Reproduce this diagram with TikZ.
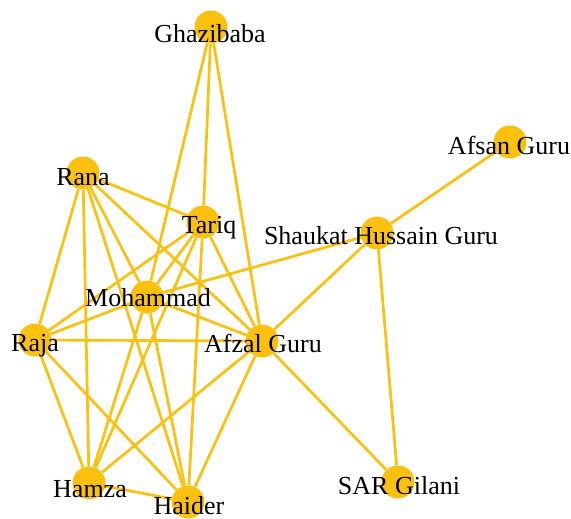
\documentclass[tikz,border=0pt]{standalone}
\usepackage{fontspec}
\setmainfont{Liberation Serif}
\definecolor{gold}{RGB}{252,192,14}
\begin{document}
\begin{tikzpicture}[x=1pt,y=-1pt,
  vert/.style={circle,fill=gold,minimum size=33pt,inner sep=0pt},
  lbl/.style={anchor=base,inner sep=0pt,font=\fontsize{26}{30}\selectfont},
  edge/.style={draw=gold,line width=2.7pt}]
\useasboundingbox (0,0) rectangle (571,519);
% vertices
\node[vert] (gh) at (211,27) {};
\node[vert] (af) at (510,142) {};
\node[vert] (ra) at (83,173) {};
\node[vert] (ta) at (203,222) {};
\node[vert] (sh) at (377,233) {};
\node[vert] (mo) at (147,297) {};
\node[vert] (rj) at (35,340) {};
\node[vert] (ag) at (262,341) {};
\node[vert] (hm) at (89,483) {};
\node[vert] (hd) at (188,502) {};
\node[vert] (sg) at (398,482) {};
% edges
\begin{scope}[every path/.style={edge}]
\draw (gh) -- (ta);
\draw (gh) -- (mo);
\draw (gh) -- (ag);
\draw (af) -- (sh);
\draw (ra) -- (ta);
\draw (ra) -- (mo);
\draw (ra) -- (ag);
\draw (ra) -- (rj);
\draw (ra) -- (hm);
\draw (ra) -- (hd);
\draw (ta) -- (mo);
\draw (ta) -- (rj);
\draw (ta) -- (ag);
\draw (ta) -- (hm);
\draw (ta) -- (hd);
\draw (sh) -- (mo);
\draw (sh) -- (ag);
\draw (sh) -- (sg);
\draw (mo) -- (rj);
\draw (mo) -- (ag);
\draw (mo) -- (hm);
\draw (mo) -- (hd);
\draw (rj) -- (ag);
\draw (rj) -- (hm);
\draw (rj) -- (hd);
\draw (ag) -- (hm);
\draw (ag) -- (hd);
\draw (ag) -- (sg);
\draw (hm) -- (hd);
\end{scope}
% labels
\node[lbl] (gh-l) at (210,43) {Ghazibaba};
\node[lbl] (af-l) at (509,154) {Afsan Guru};
\node[lbl] (ra-l) at (83,185) {Rana};
\node[lbl] (ta-l) at (209,233) {Tariq};
\node[lbl] (sh-l) at (381,244) {Shaukat Hussain Guru};
\node[lbl] (mo-l) at (148,306) {Mohammad};
\node[lbl] (rj-l) at (35,351) {Raja};
\node[lbl] (ag-l) at (263,352) {Afzal Guru};
\node[lbl] (hm-l) at (90,497) {Hamza};
\node[lbl,text depth=0pt] (hd-l) at (189,514) {Haider};
\node[lbl] (sg-l) at (399,494) {SAR Gilani};
\end{tikzpicture}
\end{document}
